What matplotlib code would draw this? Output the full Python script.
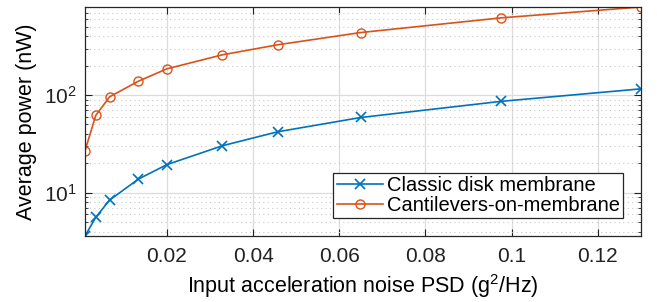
import matplotlib
matplotlib.use('Agg')
import matplotlib.pyplot as plt
import numpy as np

# data
psd = [0.001, 0.0035, 0.0067, 0.0134, 0.0200, 0.0329, 0.0457, 0.0650, 0.0975, 0.1300]
disk = [3.6, 5.6, 8.4, 13.8, 19.4, 30.3, 42.1, 59.0, 86.3, 116.0]
canti = [26.9, 62.0, 96.0, 139.0, 186.0, 259.0, 328.0, 438.0, 619.0, 800.0]
xticks = [0.02, 0.04, 0.06, 0.08, 0.10, 0.12]
xticklabels = ['0.02', '0.04', '0.06', '0.08', '0.1', '0.12']

plt.rcParams['font.family'] = ['Liberation Sans', 'DejaVu Sans']
plt.rcParams['mathtext.fontset'] = 'custom'
plt.rcParams['mathtext.rm'] = 'Liberation Sans'

fig = plt.figure(figsize=(6.57, 3.02), dpi=100)
ax = fig.add_axes([85/657, 1-236/302, (641-85)/657, (236-7)/302])

ax.semilogy(psd, disk, '-x', color='#0072BD', lw=1.2, ms=6.5, mew=1.2,
            label='Classic disk membrane')
ax.semilogy(psd, canti, '-o', color='#D95319', lw=1.2, ms=6.5, mew=1.0,
            mfc='none', label='Cantilevers-on-membrane')

ax.set_xlim(psd[0], psd[-1])
ax.set_ylim(disk[0], canti[-1])
ax.set_xticks(xticks)
ax.set_xticklabels(xticklabels)

ax.grid(True, which='major', color='#dcdcdc', lw=0.9, ls='-')
ax.grid(True, which='minor', axis='y', color='#c8c8c8', lw=0.8, ls=(0, (1, 3)))
ax.set_axisbelow(True)

ax.tick_params(which='both', direction='in', top=True, right=True,
               labelsize=15, colors='#222222')
ax.tick_params(which='major', length=5, pad=6)
ax.tick_params(axis='x', which='major', pad=8)
ax.tick_params(which='minor', length=2.5)
for s in ax.spines.values():
    s.set_color('#262626')
    s.set_linewidth(0.9)

ax.set_xlabel('Input acceleration noise PSD (g$^2$/Hz)', fontsize=15.5, labelpad=4)
ax.set_ylabel('Average power (nW)', fontsize=15.5, labelpad=5)

leg = ax.legend(loc='lower right', fontsize=14.5, fancybox=False, framealpha=1,
                edgecolor='#262626', handlelength=2.3, handletextpad=0.2,
                borderpad=0.15, labelspacing=0.05, borderaxespad=0.9)
leg.get_frame().set_linewidth(0.9)

fig.savefig('out.png', dpi=100)
